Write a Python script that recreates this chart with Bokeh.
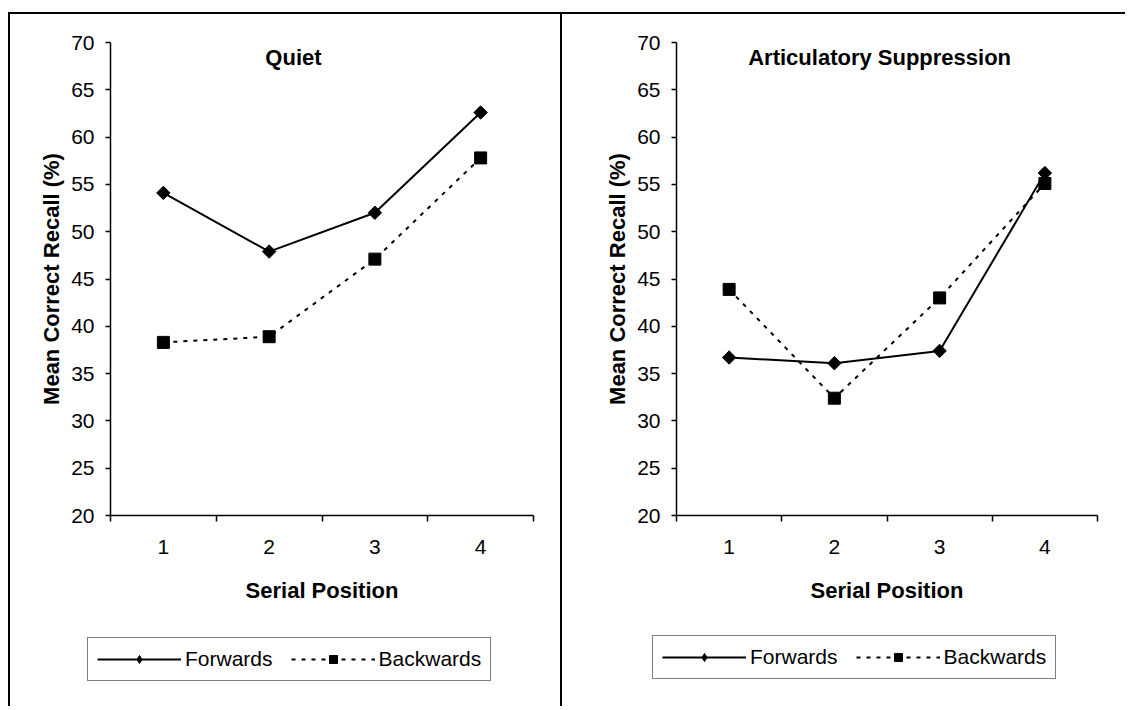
import math
from bokeh.plotting import figure
from bokeh.models import FixedTicker, Legend, LegendItem, Label, Range1d
from bokeh.layouts import row, column
from bokeh.embed import file_html
from bokeh.resources import INLINE

# ---- data ----
positions = [1, 2, 3, 4]
position_labels = ["1", "2", "3", "4"]
y_ticks = [20, 25, 30, 35, 40, 45, 50, 55, 60, 65, 70]
quiet_forwards = [54.1, 47.9, 52.0, 62.6]
quiet_backwards = [38.3, 38.9, 47.1, 57.8]
supp_forwards = [36.7, 36.1, 37.4, 56.2]
supp_backwards = [43.9, 32.4, 43.0, 55.1]
panel_titles = ["Quiet", "Articulatory Suppression"]
series_names = ["Forwards", "Backwards"]
x_label = "Serial Position"
y_label = "Mean Correct Recall (%)"

FONT = "Liberation Sans"
FWD_STYLE = dict(line_color="black", line_width=2)
BWD_STYLE = dict(line_color="black", line_width=2, line_dash="4 6")
DIAMOND = dict(marker="square", angle=math.pi / 4, size=9.5, fill_color="black", line_color="black")
KEY_DIAMOND = dict(marker="diamond", size=24, fill_color="black", line_color="black")
SQUARE = dict(marker="square", size=12, fill_color="black", line_color="black")


def make_panel(title, fwd, bwd, width, mbl, mbr, left_margin, title_x, legend_loc):
    p = figure(width=width, height=606, x_range=Range1d(0.5, 4.5), y_range=Range1d(20, 70),
               output_backend="svg", toolbar_location=None,
               min_border_left=mbl, min_border_right=mbr, min_border_top=28, min_border_bottom=105,
               margin=(12, 0, 0, left_margin))
    p.styles = {"border-left": "2px solid black", "border-top": "2px solid black"}
    p.outline_line_color = None
    p.xgrid.grid_line_color = None
    p.ygrid.grid_line_color = None

    # x axis
    xa = p.xaxis[0]
    xa.ticker = FixedTicker(ticks=positions, minor_ticks=[0.5, 1.5, 2.5, 3.5, 4.5])
    xa.major_label_overrides = {pos: lab for pos, lab in zip(positions, position_labels)}
    xa.major_tick_out = 0
    xa.major_tick_in = 0
    xa.minor_tick_out = 6
    xa.minor_tick_in = 0
    xa.minor_tick_line_color = "black"
    xa.minor_tick_line_width = 1.5
    xa.axis_line_color = "black"
    xa.axis_line_width = 1.5
    xa.major_label_text_font = FONT
    xa.major_label_text_font_size = "21px"
    xa.major_label_text_color = "black"
    xa.major_label_standoff = 18
    xa.axis_label = x_label
    xa.axis_label_text_font = FONT
    xa.axis_label_text_font_style = "bold"
    xa.axis_label_text_font_size = "22px"
    xa.axis_label_text_color = "black"
    xa.axis_label_standoff = 21

    # y axis
    ya = p.yaxis[0]
    ya.ticker = FixedTicker(ticks=y_ticks)
    ya.major_tick_out = 5
    ya.major_tick_in = 0
    ya.major_tick_line_color = "black"
    ya.major_tick_line_width = 1.5
    ya.minor_tick_line_color = None
    ya.axis_line_color = "black"
    ya.axis_line_width = 1.5
    ya.major_label_text_font = FONT
    ya.major_label_text_font_size = "21px"
    ya.major_label_text_color = "black"
    ya.major_label_standoff = 11
    ya.axis_label = y_label
    ya.axis_label_text_font = FONT
    ya.axis_label_text_font_style = "bold"
    ya.axis_label_text_font_size = "22px"
    ya.axis_label_text_color = "black"
    ya.axis_label_standoff = 4

    p.line(positions, fwd, **FWD_STYLE)
    p.scatter(positions, fwd, **DIAMOND)
    p.line(positions, bwd, **BWD_STYLE)
    p.scatter(positions, bwd, **SQUARE)

    p.add_layout(Label(x=title_x, y=68.45, text=title, text_align="center", text_baseline="alphabetic",
                       text_font=FONT, text_font_style="bold", text_font_size="22px", text_color="black"))

    # legend strip below the chart (its key glyphs use the same series, outside this strip's view)
    lf = figure(width=width, height=88, x_range=Range1d(0.5, 4.5), y_range=Range1d(0, 1),
                output_backend="svg", toolbar_location=None,
                x_axis_location=None, y_axis_location=None, min_border=0,
                margin=(0, 0, 0, left_margin))
    lf.styles = {"border-left": "2px solid black"}
    lf.outline_line_color = None
    lf.xgrid.grid_line_color = None
    lf.ygrid.grid_line_color = None
    k1 = lf.line(positions, fwd, **FWD_STYLE)
    k2 = lf.scatter(positions, fwd, **KEY_DIAMOND)
    k3 = lf.line(positions, bwd, **BWD_STYLE)
    k4 = lf.scatter(positions, bwd, **SQUARE)
    legend = Legend(items=[LegendItem(label=series_names[0], renderers=[k1, k2]),
                           LegendItem(label=series_names[1], renderers=[k3, k4])],
                    orientation="horizontal", location=legend_loc)
    legend.border_line_color = "black"
    legend.border_line_width = 1
    legend.background_fill_color = "white"
    legend.background_fill_alpha = 1
    legend.label_text_font = FONT
    legend.label_text_font_size = "21px"
    legend.label_text_color = "black"
    legend.glyph_width = 84
    legend.glyph_height = 20
    legend.label_height = 20
    legend.label_standoff = 4
    legend.spacing = 18
    legend.padding = 9
    legend.margin = 0
    lf.add_layout(legend)
    return column(p, row(lf, spacing=0), spacing=0)


c1 = make_panel(panel_titles[0], quiet_forwards, quiet_backwards, 552, 100, 29, 8, 2.23, (77, 25))
c2 = make_panel(panel_titles[1], supp_forwards, supp_backwards, 565, 114, 30, 0, 2.43, (90, 27))

layout = row(c1, c2, spacing=0)
open("out.html", "w").write(file_html(layout, INLINE))
